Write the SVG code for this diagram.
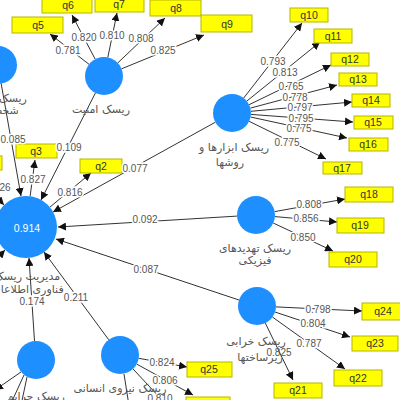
<svg xmlns="http://www.w3.org/2000/svg" width="400" height="400" viewBox="0 0 400 400">
<defs>
<marker id="ah" viewBox="0 0 10 10" refX="10" refY="5" markerWidth="8" markerHeight="8" markerUnits="userSpaceOnUse" orient="auto"><path d="M0,0 L10,5 L0,10 z" fill="#111"/></marker>
<style>
.c{fill:#1e8fff}
.l{stroke:#333;stroke-width:1;fill:none;marker-end:url(#ah)}
.b{fill:#ffff00;stroke:#b5b500;stroke-width:1}
.q{font-family:"Liberation Sans",Arial,sans-serif;font-size:10.5px;fill:#333;text-anchor:middle}
.n{font-family:"Liberation Sans",Arial,sans-serif;font-size:10px;fill:#555;text-anchor:middle;stroke:#fff;stroke-width:3;paint-order:stroke}
.a{font-family:"DejaVu Sans",sans-serif;font-size:11px;fill:#555;text-anchor:middle}
</style>
</defs>
<rect width="400" height="400" fill="#fff"/>
<g id="connectors">
<line class="l" x1="89" y1="64.3" x2="50" y2="34"/>
<line class="l" x1="95.2" y1="59.2" x2="72" y2="15"/>
<line class="l" x1="107.8" y1="57.4" x2="117" y2="13"/>
<line class="l" x1="117.8" y1="62.9" x2="165" y2="18"/>
<line class="l" x1="121.6" y1="68.8" x2="204" y2="35"/>
<line class="l" x1="95.4" y1="93" x2="41" y2="200"/>
<line class="l" x1="243.7" y1="98" x2="302" y2="23"/>
<line class="l" x1="246.8" y1="101.1" x2="320" y2="42"/>
<line class="l" x1="249.1" y1="104.7" x2="331" y2="65"/>
<line class="l" x1="250.4" y1="108.1" x2="337" y2="85"/>
<line class="l" x1="250.9" y1="111.3" x2="352" y2="102"/>
<line class="l" x1="250.9" y1="114.4" x2="353" y2="122"/>
<line class="l" x1="250.6" y1="117" x2="347" y2="138"/>
<line class="l" x1="249.1" y1="121.3" x2="326" y2="159"/>
<line class="l" x1="215.4" y1="122.2" x2="53" y2="212"/>
<line class="l" x1="274.7" y1="211.6" x2="345" y2="199"/>
<line class="l" x1="274.9" y1="216.6" x2="337" y2="222"/>
<line class="l" x1="273.2" y1="223" x2="333" y2="251"/>
<line class="l" x1="237" y1="216.1" x2="58" y2="227"/>
<line class="l" x1="276" y1="306.9" x2="362" y2="311"/>
<line class="l" x1="275" y1="312" x2="350" y2="337"/>
<line class="l" x1="272.4" y1="317" x2="345" y2="369"/>
<line class="l" x1="265.3" y1="323.1" x2="293" y2="380"/>
<line class="l" x1="239" y1="300" x2="56" y2="239"/>
<line class="l" x1="138.7" y1="358.3" x2="187" y2="367"/>
<line class="l" x1="136.7" y1="364.1" x2="193" y2="395"/>
<line class="l" x1="133" y1="368.9" x2="175" y2="414"/>
<line class="l" x1="124" y1="374" x2="130" y2="412"/>
<line class="l" x1="108.7" y1="339.7" x2="44" y2="252"/>
<line class="l" x1="34.5" y1="341" x2="29" y2="258"/>
<line class="l" x1="21" y1="372" x2="-5" y2="390"/>
<line class="l" x1="24" y1="375" x2="8" y2="410"/>
<line class="l" x1="27" y1="377" x2="20" y2="410"/>
<line class="l" x1="1.2" y1="83.7" x2="21" y2="196"/>
<line class="l" x1="30.1" y1="196.3" x2="35" y2="160"/>
<line class="l" x1="49.8" y1="207.2" x2="91" y2="173"/>
<line class="l" x1="-12" y1="188" x2="4" y2="205"/>
<line class="l" x1="-12" y1="268" x2="5" y2="250"/>
</g>
<g id="boxes">
<g id="q1"><rect class="b" x="-40" y="156" width="42" height="14"/></g>
<g id="q2"><rect class="b" x="80" y="159" width="42" height="14"/><text class="q" x="101" y="170">q2</text></g>
<g id="q3"><rect class="b" x="16" y="144" width="41" height="14"/><text class="q" x="36" y="155">q3</text></g>
<g id="q5"><rect class="b" x="12" y="17" width="51" height="16"/><text class="q" x="38" y="29">q5</text></g>
<g id="q6"><rect class="b" x="42" y="-3" width="50" height="16"/><text class="q" x="68" y="9">q6</text></g>
<g id="q7"><rect class="b" x="95" y="-3" width="49" height="15"/><text class="q" x="119" y="8">q7</text></g>
<g id="q8"><rect class="b" x="150" y="0" width="51" height="16"/><text class="q" x="176" y="12">q8</text></g>
<g id="q9"><rect class="b" x="201" y="15" width="51" height="17"/><text class="q" x="227" y="28">q9</text></g>
<g id="q10"><rect class="b" x="290" y="8" width="38" height="14"/><text class="q" x="309" y="19">q10</text></g>
<g id="q11"><rect class="b" x="314" y="29" width="38" height="14"/><text class="q" x="333" y="40">q11</text></g>
<g id="q12"><rect class="b" x="331" y="53" width="38" height="13"/><text class="q" x="350" y="63">q12</text></g>
<g id="q13"><rect class="b" x="339" y="73" width="38" height="13"/><text class="q" x="358" y="83">q13</text></g>
<g id="q14"><rect class="b" x="352" y="94" width="38" height="13"/><text class="q" x="371" y="104">q14</text></g>
<g id="q15"><rect class="b" x="354" y="116" width="39" height="13"/><text class="q" x="373" y="126">q15</text></g>
<g id="q16"><rect class="b" x="349" y="138" width="39" height="13"/><text class="q" x="368" y="148">q16</text></g>
<g id="q17"><rect class="b" x="323" y="162" width="39" height="12"/><text class="q" x="342" y="172">q17</text></g>
<g id="q18"><rect class="b" x="345" y="187" width="48" height="15"/><text class="q" x="369" y="198">q18</text></g>
<g id="q19"><rect class="b" x="337" y="218" width="47" height="15"/><text class="q" x="360" y="229">q19</text></g>
<g id="q20"><rect class="b" x="329" y="252" width="48" height="15"/><text class="q" x="353" y="263">q20</text></g>
<g id="q24"><rect class="b" x="362" y="303" width="40" height="17"/><text class="q" x="383" y="315">q24</text></g>
<g id="q23"><rect class="b" x="352" y="336" width="46" height="15"/><text class="q" x="375" y="347">q23</text></g>
<g id="q22"><rect class="b" x="334" y="370" width="48" height="16"/><text class="q" x="358" y="382">q22</text></g>
<g id="q21"><rect class="b" x="274" y="383" width="48" height="15"/><text class="q" x="298" y="394">q21</text></g>
<g id="q25"><rect class="b" x="187" y="362" width="45" height="15"/><text class="q" x="209" y="373">q25</text></g>
<g id="q26"><rect class="b" x="186" y="397" width="44" height="15"/></g>
</g>
<g id="labels">
<text class="n" x="68" y="53.5">0.781</text>
<text class="n" x="84" y="40.5">0.820</text>
<text class="n" x="112" y="38.5">0.810</text>
<text class="n" x="141" y="42">0.808</text>
<text class="n" x="163" y="53.5">0.825</text>
<text class="n" x="273" y="64.5">0.793</text>
<text class="n" x="285" y="75.5">0.813</text>
<text class="n" x="291" y="89.5">0.765</text>
<text class="n" x="295" y="100.5">0.778</text>
<text class="n" x="300" y="110.5">0.797</text>
<text class="n" x="301" y="121.5">0.795</text>
<text class="n" x="299" y="131.5">0.775</text>
<text class="n" x="287" y="145.5">0.775</text>
<text class="n" x="309" y="207.5">0.808</text>
<text class="n" x="306" y="221.5">0.856</text>
<text class="n" x="303" y="240.5">0.850</text>
<text class="n" x="318" y="312.5">0.798</text>
<text class="n" x="313" y="326.5">0.804</text>
<text class="n" x="309" y="346.5">0.787</text>
<text class="n" x="162" y="365.5">0.824</text>
<text class="n" x="165" y="383.5">0.806</text>
<text class="n" x="160" y="401.5">0.810</text>
<text class="n" x="13" y="142.5">0.085</text>
<text class="n" x="69" y="150.5">0.109</text>
<text class="n" x="33" y="182.5">0.827</text>
<text class="n" x="70" y="195.5">0.816</text>
<text class="n" x="135" y="171.5">0.077</text>
<text class="n" x="145" y="222.5">0.092</text>
<text class="n" x="146" y="272.5">0.087</text>
<text class="n" x="76" y="300.5">0.211</text>
<text class="n" x="32" y="304.5">0.174</text>
<text class="n" x="5" y="190.5">26</text>
</g>
<g id="nodeH"><circle class="c" cx="-2" cy="65" r="19"/><text class="a" x="-2" y="102">ریسک بودجه</text><text class="a" x="-2" y="114">شخصیتی</text></g>
<g id="nodeA"><circle class="c" cx="104" cy="76" r="19"/><text class="a" x="101" y="113">ریسک امنیت</text></g>
<g id="nodeB"><circle class="c" cx="232" cy="113" r="19"/><text class="a" x="234" y="151">ریسک ابزارها و</text><text class="a" x="230" y="166">روشها</text></g>
<g id="nodeD"><circle class="c" cx="256" cy="215" r="19"/><text class="a" x="255" y="252">ریسک تهدیدهای</text><text class="a" x="255" y="264">فیزیکی</text></g>
<g id="nodeE"><circle class="c" cx="257" cy="306" r="19"/><text class="a" x="256" y="345">ریسک خرابی</text><text class="a" x="260" y="361">زیرساختها</text><text class="n" x="279" y="355.5" style="stroke:none">0.825</text></g>
<g id="nodeF"><circle class="c" cx="120" cy="355" r="19"/><text class="a" x="120" y="392">ریسک نیروی انسانی</text></g>
<g id="nodeG"><circle class="c" cx="36" cy="360" r="19"/><text class="a" x="36" y="400">ریسک جرایم</text></g>
<g id="nodeC"><circle class="c" cx="26" cy="227" r="31"/><text x="27" y="231.5" style="font-family:'Liberation Sans',Arial,sans-serif;font-size:10.5px;fill:#fff;text-anchor:middle">0.914</text><text class="a" x="27" y="280">مدیریت ریسک</text><text class="a" x="27" y="293">فناوری اطلاعات</text></g>
</svg>
